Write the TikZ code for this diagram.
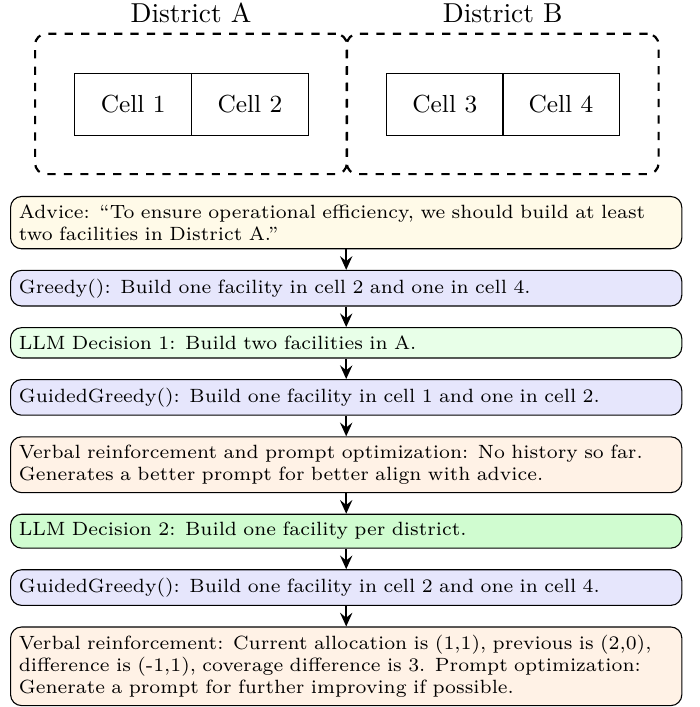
\documentclass[tikz,border=0pt]{standalone}
\usetikzlibrary{positioning,arrows.meta}
\begin{document}
\begin{tikzpicture}[x=0.365pt,y=-0.365pt,
  district/.style={draw, dashed, thick, rounded corners=4pt, minimum width=4cm, minimum height=1.8cm, inner sep=0pt},
  cellbox/.style={draw, minimum width=1.5cm, minimum height=0.8cm, font=\small, inner sep=0pt},
  dlabel/.style={anchor=south, font=\normalsize},
  flow/.style={draw, rounded corners=4pt, text width=8.4cm, align=left, inner sep=3pt, font=\scriptsize},
  flowarrow/.style={-{Stealth[length=5pt,width=4.5pt,inset=1.8pt]}, line width=0.55pt},
]
\definecolor{advfill}{RGB}{255,250,232}
\definecolor{greedyfill}{RGB}{230,230,252}
\definecolor{llmonefill}{RGB}{232,255,232}
\definecolor{llmtwofill}{RGB}{208,252,208}
\definecolor{verbalfill}{RGB}{255,242,230}
\useasboundingbox (0,0) rectangle (699,707);

% districts
\node[district] (dA) at (191,104) {};
\node[district] (dB) at (502.7,104) {};
\node[dlabel] (lA) at (dA.north) {District A};
\node[dlabel] (lB) at (dB.north) {District B};

% cells
\node[cellbox] (c1) at (133.2,104.5) {Cell 1};
\node[cellbox] (c2) at (250,104.5) {Cell 2};
\node[cellbox] (c3) at (444.8,104.5) {Cell 3};
\node[cellbox] (c4) at (561,104.5) {Cell 4};

% flow
\node[flow, fill=advfill, anchor=north] (adv) at (346.2,196)
  {Advice: “To ensure operational efficiency, we should build at least two facilities in District A.”};
\node[flow, fill=greedyfill, below=7.5pt of adv] (gr)
  {Greedy(): Build one facility in cell 2 and one in cell 4.};
\node[flow, fill=llmonefill, below=7.5pt of gr] (llmA)
  {LLM Decision 1: Build two facilities in A.};
\node[flow, fill=greedyfill, below=7.5pt of llmA] (ggA)
  {GuidedGreedy(): Build one facility in cell 1 and one in cell 2.};
\node[flow, fill=verbalfill, below=7.5pt of ggA] (vA)
  {Verbal reinforcement and prompt optimization: No history so far. Generates a better prompt for better align with advice.};
\node[flow, fill=llmtwofill, below=7.5pt of vA] (llmB)
  {LLM Decision 2: Build one facility per district.};
\node[flow, fill=greedyfill, below=7.5pt of llmB] (ggB)
  {GuidedGreedy(): Build one facility in cell 2 and one in cell 4.};
\node[flow, fill=verbalfill, below=7.5pt of ggB] (vB)
  {Verbal reinforcement: Current allocation is (1,1), previous is (2,0), difference is (-1,1), coverage difference is 3. Prompt optimization: Generate a prompt for further improving if possible.};

\draw[flowarrow] (adv.south) -- (gr.north);
\draw[flowarrow] (gr.south) -- (llmA.north);
\draw[flowarrow] (llmA.south) -- (ggA.north);
\draw[flowarrow] (ggA.south) -- (vA.north);
\draw[flowarrow] (vA.south) -- (llmB.north);
\draw[flowarrow] (llmB.south) -- (ggB.north);
\draw[flowarrow] (ggB.south) -- (vB.north);
\end{tikzpicture}
\end{document}
